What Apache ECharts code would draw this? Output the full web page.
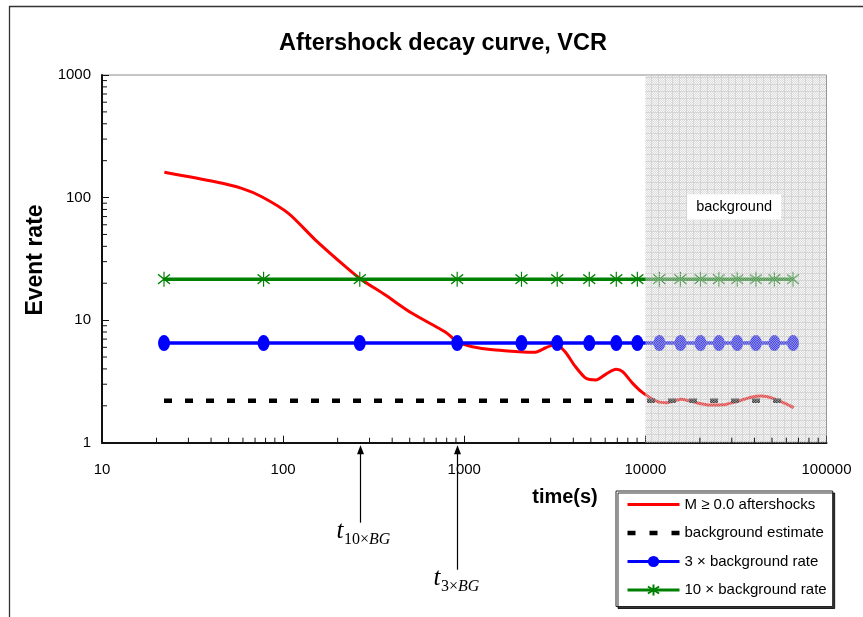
<!DOCTYPE html>
<html><head><meta charset="utf-8">
<script src="https://cdn.jsdelivr.net/npm/echarts@6/dist/echarts.min.js"></script>
<style>html,body{margin:0;padding:0;background:#fff}#c{width:863px;height:617px}</style>
</head><body><div id="c"></div>
<script>
// ---------------- data ----------------
const seriesNames = ['M \u2265 0.0 aftershocks', 'background estimate', '3 \u00d7 background rate', '10 \u00d7 background rate'];

const aftershockTime = [22.1, 42.1, 59.1, 76.2, 107, 151, 221, 265, 367, 515, 724, 805, 914, 1107, 1492, 2009, 2430, 2820, 3205, 3640, 4047, 4697, 5335, 6064, 6887, 7486, 8508, 9660, 11700, 13020, 15770, 19090, 22600, 26780, 31770, 38460, 43650, 50630, 58760, 65920];
const aftershockRate = [161, 134.5, 118.9, 101.6, 74.3, 45.0, 27.3, 21.9, 16.0, 11.36, 8.58, 7.80, 6.67, 6.07, 5.70, 5.52, 5.46, 5.95, 6.4, 5.42, 4.30, 3.35, 3.25, 3.63, 3.97, 3.80, 3.05, 2.56, 2.16, 2.12, 2.26, 2.12, 2.03, 2.04, 2.16, 2.35, 2.40, 2.30, 2.10, 1.93];

const markerTime = [22, 78, 265, 914, 2070, 3260, 4900, 6910, 9030, 11950, 15620, 20150, 25450, 32150, 40760, 51550, 65330];
const backgroundRate = [2.2, 2.2, 2.2, 2.2, 2.2, 2.2, 2.2, 2.2, 2.2, 2.2, 2.2, 2.2, 2.2, 2.2, 2.2, 2.2, 2.2];
const threeBgRate = [6.5, 6.5, 6.5, 6.5, 6.5, 6.5, 6.5, 6.5, 6.5, 6.5, 6.5, 6.5, 6.5, 6.5, 6.5, 6.5, 6.5];
const tenBgRate = [21.6, 21.6, 21.6, 21.6, 21.6, 21.6, 21.6, 21.6, 21.6, 21.6, 21.6, 21.6, 21.6, 21.6, 21.6, 21.6, 21.6];

const backgroundWindow = [10000, 100000];
const backgroundLabel = 'background';
const backgroundLabelAt = [30900, 84];

const arrowTimes = [265, 912];
const arrowSubscripts = ['10\u00d7', '3\u00d7'];

const xTickLabels = ['10', '100', '1000', '10000', '100000'];
const yTickLabels = ['1', '10', '100', '1000'];
const minorMultipliers = [2, 3, 4, 5, 6, 7, 8, 9];
const xDecades = [10, 100, 1000, 10000];
const yDecades = [1, 10, 100];

// ---------------- helpers ----------------
const zip = (a, b) => a.map((v, i) => [v, b[i]]);
const xMinor = [], yMinor = [];
xDecades.forEach(d => minorMultipliers.forEach(m => xMinor.push(d * m)));
yDecades.forEach(d => minorMultipliers.forEach(m => yMinor.push(d * m)));

function makePattern() {
  const c = document.createElement('canvas');
  c.width = 7; c.height = 7;
  const g = c.getContext('2d');
  for (let i = 0; i < 7; i++) {
    for (let j = 0; j < 7; j++) {
      if (i === 0 || j === 0) g.fillStyle = 'rgba(185,185,185,0.6)';
      else if ((i + j) % 2 === 0) g.fillStyle = 'rgba(205,205,205,0.7)';
      else g.fillStyle = 'rgba(230,230,230,0.3)';
      g.fillRect(i, j, 1, 1);
    }
  }
  return c;
}
const pattern = { image: makePattern(), repeat: 'repeat' };

const FONT = '"Liberation Sans", Arial, sans-serif';
const SERIF = '"Liberation Serif", "Times New Roman", serif';
const starPath = 'path://M5,0L5,16M0,3L10,13M0,13L10,3';
const solidIcon = 'path://M0,0L52,0L52,3L0,3Z';
const dashIcon = 'path://M0,0h8v4.5h-8zM22,0h8v4.5h-8zM44,0h8v4.5h-8z';

const chart = echarts.init(document.getElementById('c'), null, { renderer: 'canvas' });

const option = {
  animation: false,
  backgroundColor: '#fff',
  textStyle: { fontFamily: FONT },
  grid: { left: 102, top: 75, right: 36.5, bottom: 174.3, show: true, borderColor: '#8a8a8a', borderWidth: 1, backgroundColor: 'transparent', outerBoundsMode: 'none' },
  xAxis: {
    type: 'log', logBase: 10, min: 10, max: 100000,
    axisLine: { lineStyle: { color: '#111', width: 2 } },
    axisTick: { inside: true, length: 7, lineStyle: { color: '#111', width: 1 } },
    splitLine: { show: false },
    axisLabel: { color: '#000', fontSize: 15, fontFamily: FONT, margin: 20,
      formatter: v => { const i = Math.round(Math.log10(v)) - 1; return xTickLabels[i] || ''; } }
  },
  yAxis: {
    type: 'log', logBase: 10, min: 1, max: 1000,
    axisLine: { lineStyle: { color: '#111', width: 2 } },
    axisTick: { inside: true, length: 7, lineStyle: { color: '#111', width: 1 } },
    splitLine: { show: false },
    axisLabel: { color: '#000', fontSize: 15, fontFamily: FONT, margin: 11,
      formatter: v => { const i = Math.round(Math.log10(v)); return yTickLabels[i] || ''; } }
  },
  legend: {
    data: [
      { name: seriesNames[0], icon: solidIcon, itemStyle: { color: '#ff0000' } },
      { name: seriesNames[1], icon: dashIcon, itemStyle: { color: '#000' } },
      { name: seriesNames[2], lineStyle: { width: 3 } },
      { name: seriesNames[3], lineStyle: { width: 3 } }
    ],
    orient: 'vertical', left: 616, top: 491,
    itemWidth: 52, itemHeight: 14, itemGap: 13.5,
    padding: [6, 6, 9, 10],
    backgroundColor: '#fff', borderColor: '#222', borderWidth: 1,
    shadowColor: 'rgba(0,0,0,0.8)', shadowBlur: 0, shadowOffsetX: 2, shadowOffsetY: 2,
    textStyle: { fontSize: 15, color: '#000', fontFamily: FONT },
    selectedMode: false
  },
  series: [
    {
      name: seriesNames[0], type: 'line', data: zip(aftershockTime, aftershockRate),
      smooth: 0.25, symbol: 'none', z: 2,
      lineStyle: { color: '#ff0000', width: 3 }, itemStyle: { color: '#ff0000' }
    },
    {
      name: seriesNames[1], type: 'line', data: zip(markerTime, backgroundRate),
      symbol: 'none', z: 3,
      lineStyle: { color: '#000', width: 4.5, type: [8, 13], cap: 'butt' }, itemStyle: { color: '#000' }
    },
    {
      name: seriesNames[2], type: 'line', data: zip(markerTime, threeBgRate),
      symbol: 'circle', symbolSize: [12, 16], showAllSymbol: true, z: 4,
      lineStyle: { color: '#0000ff', width: 3.5 }, itemStyle: { color: '#0000ff', borderWidth: 0 }
    },
    {
      name: seriesNames[3], type: 'line', data: zip(markerTime, tenBgRate),
      symbol: starPath, symbolSize: [12, 15], showAllSymbol: true, z: 4,
      lineStyle: { color: '#008000', width: 3.5 },
      itemStyle: { color: '#008000', borderColor: '#008000', borderWidth: 1.3 }
    },
    // gray background window overlay + label
    {
      name: 'bgwindow', type: 'custom', z: 6, silent: true,
      data: [[backgroundWindow[0], backgroundWindow[1]]],
      renderItem: (params, api) => {
        const p0 = api.coord([api.value(0), 1000]);
        const p1 = api.coord([api.value(1), 1]);
        const lc = api.coord(backgroundLabelAt);
        return {
          type: 'group',
          children: [
            { type: 'rect', shape: { x: p0[0], y: p0[1], width: p1[0] - p0[0], height: p1[1] - p0[1] },
              style: { fill: pattern } },
            { type: 'rect', shape: { x: lc[0] - 47, y: lc[1] - 12.7, width: 94, height: 25.4 },
              style: { fill: '#fff' } },
            { type: 'text', x: lc[0], y: lc[1],
              style: { text: backgroundLabel, fill: '#000', font: '14.5px ' + FONT, align: 'center', verticalAlign: 'middle' } }
          ]
        };
      }
    },
    // minor ticks
    {
      name: 'minorTicks', type: 'custom', z: 7, silent: true,
      data: [[0, 0]],
      renderItem: (params, api) => {
        const children = [];
        xMinor.forEach(v => {
          const p = api.coord([v, 1]);
          children.push({ type: 'line', shape: { x1: p[0], y1: p[1], x2: p[0], y2: p[1] - 5 }, style: { stroke: '#111', lineWidth: 1 } });
        });
        yMinor.forEach(v => {
          const p = api.coord([10, v]);
          children.push({ type: 'line', shape: { x1: p[0], y1: p[1], x2: p[0] + 5, y2: p[1] }, style: { stroke: '#111', lineWidth: 1 } });
        });
        return { type: 'group', children };
      }
    },
    // arrows with t labels
    {
      name: 'arrows', type: 'custom', z: 8, silent: true,
      data: arrowTimes.map((t, i) => [t, i]),
      renderItem: (params, api) => {
        const idx = params.dataIndex;
        const p = api.coord([api.value(0), 1]);
        const ax = Math.round(p[0]) + 0.5;
        const top = p[1] + 2.5;
        const len = idx === 0 ? 80 : 127;
        const bottom = p[1] + len;
        return {
          type: 'group',
          children: [
            { type: 'line', shape: { x1: ax, y1: top + 6, x2: ax, y2: bottom }, style: { stroke: '#000', lineWidth: 1.2 } },
            { type: 'polygon', shape: { points: [[ax, top], [ax - 3.5, top + 9], [ax + 3.5, top + 9]] }, style: { fill: '#000' } },
            { type: 'text', x: ax - 24, y: bottom + 9,
              style: { text: 't', font: 'italic 25px ' + SERIF, fill: '#000', align: 'left', verticalAlign: 'middle' } },
            { type: 'text', x: ax - 16.5, y: bottom + 17,
              style: { text: '{n|' + arrowSubscripts[idx] + '}{i|BG}', fill: '#000', align: 'left', verticalAlign: 'middle',
                rich: { n: { font: '16px ' + SERIF, fill: '#000' }, i: { font: 'italic 16px ' + SERIF, fill: '#000' } } } }
          ]
        };
      }
    }
  ],
  graphic: [
    { type: 'line', shape: { x1: 9, y1: 6.5, x2: 863, y2: 6.5 }, style: { stroke: '#333', lineWidth: 1.3 } },
    { type: 'line', shape: { x1: 9.5, y1: 6, x2: 9.5, y2: 617 }, style: { stroke: '#333', lineWidth: 1.3 } },
    { type: 'text', x: 443, y: 44, style: { text: 'Aftershock decay curve, VCR', font: 'bold 23.5px ' + FONT, fill: '#000', align: 'center', verticalAlign: 'middle' } },
    { type: 'text', x: 36, y: 260, rotation: Math.PI / 2, style: { text: 'Event rate', font: 'bold 23px ' + FONT, fill: '#000', align: 'center', verticalAlign: 'middle' } },
    { type: 'text', x: 565, y: 497, style: { text: 'time(s)', font: 'bold 20px ' + FONT, fill: '#000', align: 'center', verticalAlign: 'middle' } }
  ]
};
chart.setOption(option);
</script></body></html>
